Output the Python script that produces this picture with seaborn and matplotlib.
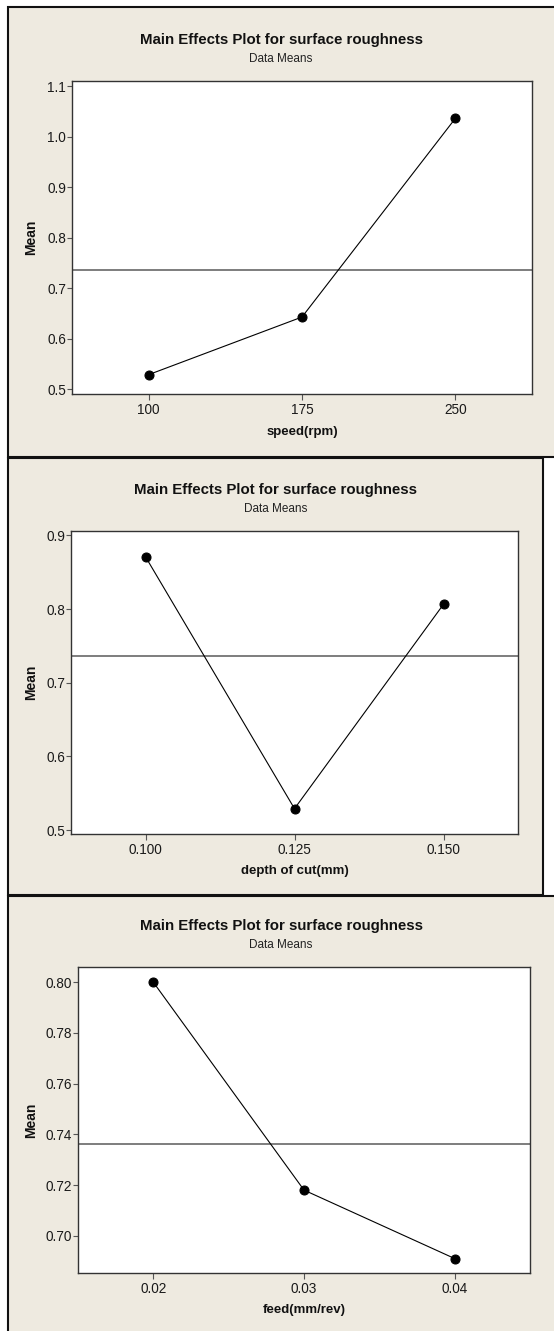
import matplotlib
matplotlib.use('Agg')
import matplotlib.pyplot as plt
import numpy as np
import pandas as pd
import seaborn as sns
from matplotlib.patches import Rectangle

# Data
speed_levels = [100, 175, 250]
speed_means = [0.529, 0.643, 1.036]
depth_levels = [0.100, 0.125, 0.150]
depth_means = [0.871, 0.529, 0.8065]
feed_levels = [0.02, 0.03, 0.04]
feed_means = [0.800, 0.718, 0.691]
grand_mean = 0.7363

speed_ticks = ['100', '175', '250']
depth_ticks = ['0.100', '0.125', '0.150']
feed_ticks = ['0.02', '0.03', '0.04']

sns.set_style('white')
plt.rcParams['font.family'] = ['Liberation Sans', 'DejaVu Sans']

W, H = 554, 1331
BG = '#EEEAE0'

fig = plt.figure(figsize=(W / 100, H / 100), dpi=100)
fig.patch.set_facecolor('white')


def fbox(l, t, r, b):
    return [l / W, 1 - b / H, (r - l) / W, (b - t) / H]


def panel(l, t, r, b):
    x, y, w, h = fbox(l, t, r, b)
    fig.patches.append(Rectangle((x, y), w, h, transform=fig.transFigure,
                                 facecolor=BG, edgecolor='#111111', linewidth=1.5, zorder=-5))


panels = [
    dict(rect=(8, 7, 560, 457), ax=(72, 81, 532, 394), x=speed_levels, y=speed_means,
         xlim=(62.5, 287.5), ylim=(0.4907, 1.110), yticks=np.arange(0.5, 1.11, 0.1), yfmt='%.1f',
         xticks=speed_ticks, xlabel='speed(rpm)', xl_y=432),
    dict(rect=(8, 458, 543, 895), ax=(71, 531, 518, 834), x=depth_levels, y=depth_means,
         xlim=(0.0875, 0.1625), ylim=(0.4946, 0.906), yticks=np.arange(0.5, 0.91, 0.1), yfmt='%.1f',
         xticks=depth_ticks, xlabel='depth of cut(mm)', xl_y=871),
    dict(rect=(8, 896, 560, 1340), ax=(78, 967, 530, 1273), x=feed_levels, y=feed_means,
         xlim=(0.015, 0.045), ylim=(0.6853, 0.806), yticks=np.arange(0.70, 0.801, 0.02), yfmt='%.2f',
         xticks=feed_ticks, xlabel='feed(mm/rev)', xl_y=1310),
]

for p in panels:
    l, t, r, b = p['rect']
    panel(l, t, r, b)
    al, at, ar, ab = p['ax']
    ax = fig.add_axes(fbox(al, at, ar, ab))
    ax.set_facecolor('white')

    df = pd.DataFrame({'level': p['x'], 'mean': p['y']})
    ax.axhline(grand_mean, color='#5a5a5a', linewidth=1.1, zorder=1)
    sns.lineplot(data=df, x='level', y='mean', ax=ax, color='black', linewidth=0.8,
                 marker='o', markersize=6.5, markeredgecolor='black', zorder=3)

    ax.set_xlim(*p['xlim'])
    ax.set_ylim(*p['ylim'])
    ax.set_xticks(p['x'], p['xticks'])
    ax.set_yticks(p['yticks'], [p['yfmt'] % v for v in p['yticks']])
    ax.set_xlabel('')
    ax.set_ylabel('')
    ax.tick_params(axis='both', direction='out', width=0.8, color='#555555',
                   labelsize=9.8, labelcolor='#1a1a1a', bottom=True, left=True)
    ax.tick_params(axis='y', length=3.6, pad=0.8)
    ax.tick_params(axis='x', length=4.3, pad=2)
    for s in ax.spines.values():
        s.set_color('#333333')
        s.set_linewidth(1.0)

    cx = (l + min(r, W)) / 2
    fig.text(cx / W, 1 - (at - 41) / H, 'Main Effects Plot for surface roughness',
             ha='center', va='center', fontsize=10.8, fontweight='bold', color='#111111')
    fig.text(cx / W, 1 - (at - 22) / H, 'Data Means',
             ha='center', va='center', fontsize=8.5, color='#222222')
    fig.text(31 / W, 1 - ((at + ab) / 2) / H, 'Mean', rotation=90,
             ha='center', va='center', fontsize=10, fontweight='bold', color='#111111')
    fig.text(((al + ar) / 2) / W, 1 - p['xl_y'] / H, p['xlabel'],
             ha='center', va='center', fontsize=9.5, fontweight='bold', color='#111111')

fig.savefig('out.png', dpi=100, facecolor='white')
